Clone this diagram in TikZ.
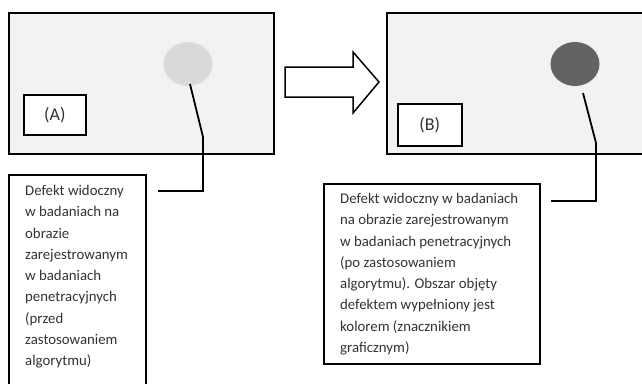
\documentclass[tikz,border=0pt]{standalone}
\usepackage{fontspec}
\setmainfont{Carlito}
\usepackage{xcolor}
\usetikzlibrary{shapes.geometric,positioning}
\definecolor{panelgray}{HTML}{F2F2F2}
\definecolor{defectlight}{HTML}{D9D9D9}
\definecolor{defectdark}{HTML}{636363}
\definecolor{txtgray}{HTML}{333333}
\tikzset{panel/.style={draw=black, fill=panelgray, line width=1.8pt, anchor=north west, inner sep=0pt}, defect/.style={ellipse, draw=none, minimum width=49pt, minimum height=44pt, inner sep=0pt}, tag/.style={draw=black, fill=white, line width=1.6pt, anchor=north west, inner sep=0pt, font=\fontsize{18}{20}\selectfont, text=txtgray}, descbox/.style={draw=black, fill=white, line width=1.6pt, anchor=north west, inner sep=0pt}, desc/.style={anchor=north west, inner sep=0pt, align=left, text=txtgray, font=\fontsize{14.8}{21.3}\selectfont}, leader/.style={line width=1.8pt, line join=miter}}
\begin{document}
\begin{tikzpicture}[x=1pt,y=-1pt]
\clip (0,0) rectangle (642,383);
\fill[white] (0,0) rectangle (642,383);
% panels
\node[panel, minimum width=265pt, minimum height=141pt] (imgA) at (8,12) {};
\node[panel, minimum width=270pt, minimum height=141pt] (imgB) at (386,12) {};
\node[defect, fill=defectlight] (defA) at (188,64) {};
\node[defect, fill=defectdark] (defB) at (575,64) {};
\node[tag, minimum width=62pt, minimum height=40pt] (tagA) at (23,94) {(A)};
\node[tag, minimum width=64pt, minimum height=42pt] (tagB) at (397,103) {(B)};
% block arrow
\draw[line width=1.5pt, fill=white, line join=miter] (285,67) -- (353,67) -- (353,52) -- (379,82) -- (353,113) -- (353,97) -- (285,97) -- cycle;
% description boxes
\node[descbox, minimum width=137pt, minimum height=230pt] (boxA) at (8,174) {};
\node[desc] (txtA) at (25,185) {Defekt widoczny\\w badaniach na\\obrazie\\zarejestrowanym\\w badaniach\\penetracyjnych\\(przed\\zastosowaniem\\algorytmu)};
\node[descbox, minimum width=216pt, minimum height=180pt] (boxB) at (323,183) {};
\node[desc] (txtB) at (340,193) {Defekt widoczny w badaniach\\na obrazie zarejestrowanym\\w badaniach penetracyjnych\\(po zastosowaniem\\algorytmu). Obszar objęty\\defektem wypełniony jest\\kolorem (znacznikiem\\graficznym)};
% leaders
\coordinate (sA) at (190,84); \coordinate (kA) at (203,137); \coordinate (eA) at (158,191);
\coordinate (sB) at (583,93); \coordinate (kB) at (596,143); \coordinate (eB) at (551,201);
\draw[leader] (sA) -- (kA) |- (eA);
\draw[leader] (sB) -- (kB) |- (eB);
\end{tikzpicture}
\end{document}
